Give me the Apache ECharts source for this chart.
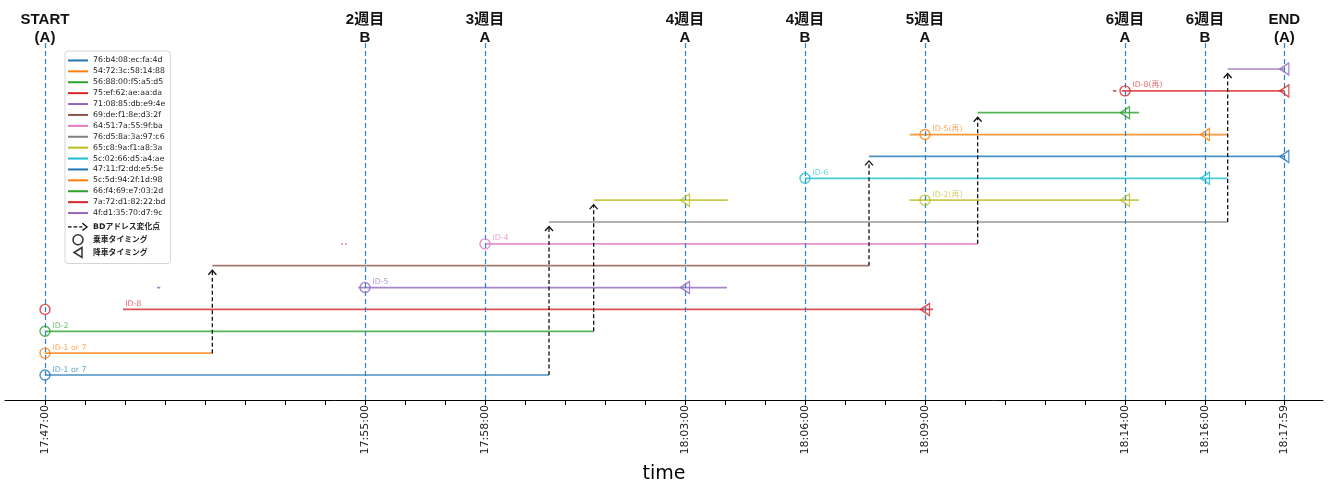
<!DOCTYPE html>
<html>
<head>
<meta charset="utf-8">
<script src="https://cdn.jsdelivr.net/npm/echarts@6/dist/echarts.min.js"></script>
<style>
html,body{margin:0;padding:0;background:#fff;}
#chart{width:1328px;height:484px;}
</style>
</head>
<body>
<div id="chart"></div>
<script>
// ---- data ----
const macs = ['76:b4:08:ec:fa:4d','54:72:3c:58:14:88','56:88:00:f5:a5:d5','75:ef:62:ae:aa:da','71:08:85:db:e9:4e',
  '69:de:f1:8e:d3:2f','64:51:7a:55:9f:ba','76:d5:8a:3a:97:c6','65:c8:9a:f1:a8:3a','5c:02:66:d5:a4:ae',
  '47:11:f2:dd:e5:5e','5c:5d:94:2f:1d:98','66:f4:69:e7:03:2d','7a:72:d1:82:22:bd','4f:d1:35:70:d7:9c'];
const colors = ['#1f77b4','#ff7f0e','#2ca02c','#d62728','#9467bd','#8c564b','#e377c2','#7f7f7f','#bcbd22','#17becf',
  '#1f77b4','#ff7f0e','#2ca02c','#d62728','#9467bd'];
// detected segments per device (row = index)
const segments = [
  [['17:47:00','17:59:36']],
  [['17:47:00','17:51:11']],
  [['17:47:00','18:00:43']],
  [['17:48:57','18:09:12']],
  [['17:49:48','17:49:53'],['17:54:50','18:04:03']],
  [['17:51:11','18:07:36']],
  [['17:54:24','17:54:27'],['17:54:30','17:54:33'],['17:58:00','18:10:19']],
  [['17:59:36','18:16:34']],
  [['18:00:43','18:04:04'],['18:08:37','18:14:21']],
  [['18:06:00','18:16:34']],
  [['18:07:36','18:17:59']],
  [['18:08:37','18:16:34']],
  [['18:10:19','18:14:21']],
  [['18:13:42','18:13:47'],['18:13:55','18:17:59']],
  [['18:16:34','18:17:59']]
];
const boardTimes = ['17:47:00','17:47:00','17:47:00','17:47:00','17:55:00','17:58:00','18:06:00','18:09:00','18:09:00','18:14:00'];
const boardRows  = [0,1,2,3,4,6,9,11,8,13];
const alightTimes = ['18:09:00','18:03:00','18:03:00','18:14:00','18:16:00','18:17:59','18:16:00','18:14:00','18:17:59','18:17:59'];
const alightRows  = [3,4,8,8,9,10,11,12,13,14];
const arrowTimes = ['17:51:11','17:59:36','18:00:43','18:07:36','18:10:19','18:16:34'];
const arrowFrom  = [1,0,2,5,6,7];
const arrowTo    = [5,7,8,10,12,14];
const labelTexts = ['ID-1 or 7','ID-1 or 7','ID-2','ID-8','ID-5','ID-4','ID-6','ID-5(再)','ID-2(再)','ID-8(再)'];
const labelTimes = ['17:47:00','17:47:00','17:47:00','17:48:49','17:55:00','17:58:00','18:06:00','18:09:00','18:09:00','18:14:00'];
const labelRows  = [0,1,2,3,4,6,9,11,8,13];
const eventTimes = ['17:47:00','17:55:00','17:58:00','18:03:00','18:06:00','18:09:00','18:14:00','18:16:00','18:17:59'];
const eventNames = ['START\n(A)','2週目\nB','3週目\nA','4週目\nA','4週目\nB','5週目\nA','6週目\nA','6週目\nB','END\n(A)'];
const axisStart = '17:46:00', axisEnd = '18:18:57';

// ---- helpers ----
function toSec(s){const p=s.split(':').map(Number);return p[0]*3600+p[1]*60+p[2];}
function fmt(v){const h=Math.floor(v/3600),m=Math.floor((v%3600)/60),s=Math.round(v%60);
  const z=n=>String(n).padStart(2,'0');return z(h)+':'+z(m)+':'+z(s);}
function hexA(c,a){const r=parseInt(c.slice(1,3),16),g=parseInt(c.slice(3,5),16),b=parseInt(c.slice(5,7),16);return `rgba(${r},${g},${b},${a})`;}

const FONT = 'DejaVu Sans, "Noto Sans CJK JP", sans-serif';
const tickVals = [];
for (let v = toSec('17:47:00'); v <= toSec('18:17:00'); v += 60) tickVals.push(v);
tickVals.push(toSec('18:17:59'));

const series = [];
macs.forEach((name, i) => {
  const data = [];
  segments[i].forEach(([a, b]) => { data.push([toSec(a), i], [toSec(b), i], null); });
  series.push({
    type: 'line', name: name, data: data, symbol: 'none', connectNulls: false,
    itemStyle: {color: colors[i]},
    lineStyle: {color: hexA(colors[i], 0.8), width: 1.7},
    silent: true, z: 2
  });
});

series.push({
  type: 'custom', name: 'BDアドレス変化点', z: 5, silent: true,
  itemStyle: {color: '#000'},
  data: arrowTimes.map((t, k) => [toSec(t), arrowFrom[k], arrowTo[k]]),
  encode: {x: 0, y: [1, 2]},
  renderItem: function (params, api) {
    const p1 = api.coord([api.value(0), api.value(1)]);
    const p2 = api.coord([api.value(0), api.value(2)]);
    const tipY = p2[1] + 4.5, x = p1[0];
    return {type: 'group', children: [
      {type: 'line', shape: {x1: x, y1: p1[1], x2: x, y2: tipY},
       style: {stroke: '#111', lineWidth: 1.3, lineDash: [4, 2.5], fill: null}},
      {type: 'polyline', shape: {points: [[x - 4, tipY + 4.5], [x, tipY], [x + 4, tipY + 4.5]]},
       style: {stroke: '#111', lineWidth: 1.3, fill: null}}
    ]};
  }
});

series.push({
  type: 'scatter', name: '乗車タイミング', z: 6, silent: true,
  symbol: 'circle', symbolSize: 10,
  data: boardTimes.map((t, k) => ({value: [toSec(t), boardRows[k]],
    itemStyle: {color: 'rgba(255,255,255,0)', borderColor: colors[boardRows[k]], borderWidth: 1.4}}))
});
series.push({
  type: 'scatter', name: '降車タイミング', z: 6, silent: true,
  symbol: 'path://M8,0 L0,5.35 L8,10.7 Z', symbolSize: [9, 12], symbolKeepAspect: false,
  data: alightTimes.map((t, k) => ({value: [toSec(t), alightRows[k]],
    itemStyle: {color: 'rgba(255,255,255,0)', borderColor: colors[alightRows[k]], borderWidth: 1.4}}))
});
series.push({
  type: 'scatter', name: 'labels', z: 7, silent: true, symbolSize: 0,
  data: labelTexts.map((txt, k) => ({value: [toSec(labelTimes[k]), labelRows[k]], name: txt,
    label: {color: hexA(colors[labelRows[k]], 0.85)}})),
  label: {show: true, formatter: p => p.name, position: [7.5, -5.5], align: 'left', verticalAlign: 'middle',
    fontSize: 7.8, fontFamily: FONT},
  markLine: {
    silent: true, symbol: 'none', animation: false,
    lineStyle: {color: '#2a82c4', type: [5, 3], width: 1.2},
    label: {show: true, position: 'end', distance: -5, fontSize: 15, fontWeight: 'bold', lineHeight: 18,
      color: '#111', fontFamily: '"Liberation Sans", "Noto Sans CJK JP", sans-serif', align: 'center'},
    data: eventTimes.map((t, k) => ({xAxis: toSec(t), label: {formatter: eventNames[k]}}))
  }
});

const option = {
  animation: false,
  backgroundColor: '#fff',
  grid: {left: 5, right: 5, top: 42, bottom: 84, outerBoundsMode: 'none', containLabel: false},
  xAxis: {
    type: 'value', min: toSec(axisStart), max: toSec(axisEnd), interval: 60,
    name: 'time', nameLocation: 'middle', nameGap: 65,
    nameTextStyle: {fontSize: 19, color: '#000', fontFamily: FONT},
    splitLine: {show: false},
    axisLine: {onZero: false, lineStyle: {color: '#000', width: 1}},
    axisTick: {length: 5, lineStyle: {color: '#000'}, customValues: tickVals},
    axisLabel: {customValues: eventTimes.map(toSec), formatter: v => fmt(v), rotate: 90, margin: 5,
      fontSize: 11, color: '#222', fontFamily: FONT}
  },
  yAxis: {type: 'value', min: -1.144, max: 15.235, show: false, splitLine: {show: false}},
  legend: [
    {
      orient: 'vertical', left: 65, top: 51, padding: [4, 5, 45, 3],
      backgroundColor: 'rgba(255,255,255,0.85)', borderColor: '#d5d5d5', borderWidth: 1, borderRadius: 3,
      itemWidth: 20, itemHeight: 2, itemGap: 0, icon: 'rect', selectedMode: false,
      textStyle: {fontSize: 7.8, lineHeight: 10.9, color: '#222', fontFamily: FONT},
      data: macs
    },
    {
      orient: 'vertical', left: 68, top: 220.5, padding: 0,
      itemWidth: 20, itemHeight: 10, itemGap: 0, selectedMode: false, symbolKeepAspect: true,
      textStyle: {fontSize: 7.8, lineHeight: 12.8, color: '#222', fontFamily: FONT, fontWeight: 'bold'},
      data: [
        {name: 'BDアドレス変化点', icon: 'path://M0,4.4 h3.5 v1.3 h-3.5 Z M5.5,4.4 h3.5 v1.3 h-3.5 Z M11,4.4 h3 v1.3 h-3 Z M14.5,1 L19.5,5 L14.5,9 L13.6,8 L17.7,5 L13.6,2 Z',
          itemStyle: {color: '#000', borderWidth: 0}},
        {name: '乗車タイミング', icon: 'circle',
          itemStyle: {color: 'rgba(255,255,255,0)', borderColor: '#000', borderWidth: 1.5}},
        {name: '降車タイミング', icon: 'path://M8,0 L0,5 L8,10 Z',
          itemStyle: {color: 'rgba(255,255,255,0)', borderColor: '#000', borderWidth: 1.5}}
      ]
    }
  ],
  series: series
};
const chart = echarts.init(document.getElementById('chart'), null, {renderer: 'canvas'});
chart.setOption(option);
</script>
</body>
</html>
